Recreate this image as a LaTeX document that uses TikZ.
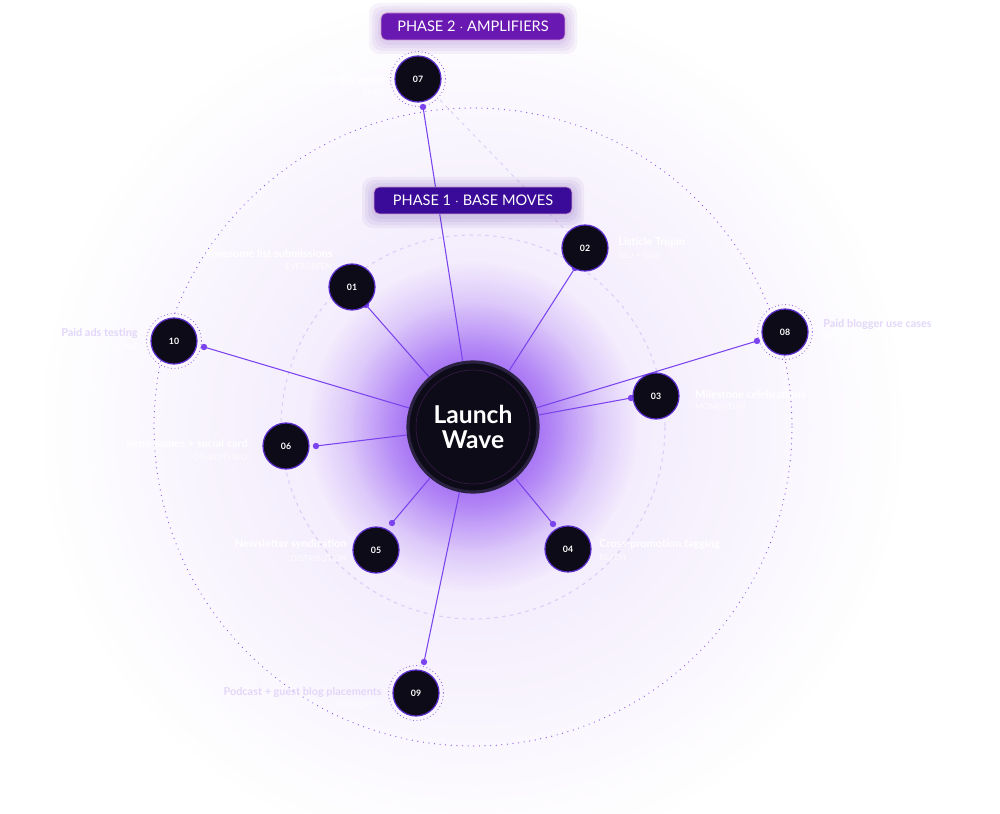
\documentclass[tikz,border=0pt]{standalone}
\usepackage{fontspec}
\setmainfont{Lato}
\usetikzlibrary{fadings}
\definecolor{bgpale}{HTML}{EDE2FC}
\definecolor{glowviolet}{HTML}{9252F4}
\definecolor{ringviolet}{HTML}{8A4FE6}
\definecolor{innerring}{HTML}{DCCEF6}
\definecolor{linkviolet}{HTML}{7A43EE}
\definecolor{nodedark}{HTML}{0E0B18}
\definecolor{nodeedge}{HTML}{5A2CCB}
\definecolor{hubedge}{HTML}{2A2240}
\definecolor{phasetwo}{HTML}{6A18B2}
\definecolor{phaseone}{HTML}{3A0B98}
\definecolor{titlelav}{HTML}{E2D7FA}
\tikzfading[name=glowfade, inner color=transparent!0, outer color=transparent!100]
\begin{document}
\begin{tikzpicture}[x=0.02cm,y=-0.02cm,
  numnode/.style={circle,fill=nodedark,draw=nodeedge,line width=0.7pt,minimum size=0.92cm,inner sep=0pt,text=white,font=\fontsize{5}{6}\selectfont\bfseries},
  halo/.style={draw=ringviolet,line width=0.6pt,line cap=round,dash pattern=on 0pt off 2pt},
  link/.style={draw=linkviolet,line width=0.6pt},
  enddot/.style={fill=linkviolet},
  title/.style={text=white,font=\fontsize{6.2}{7}\selectfont\bfseries,inner sep=0pt},
  ptitle/.style={text=titlelav,font=\fontsize{6.2}{7}\selectfont\bfseries,inner sep=0pt},
  subtitle/.style={text=white,text opacity=0.8,font=\fontsize{4.6}{5}\selectfont,inner sep=0pt},
  phasebox/.style={rounded corners=3pt,draw=white!60!violet,line width=0.4pt,text=white,minimum height=0.54cm,inner sep=0pt,font=\fontsize{8.3}{9}\selectfont}
]
\useasboundingbox (0,0) rectangle (1000,814);
\fill[white] (0,0) rectangle (1000,814);
% soft background and glow
\fill[bgpale,path fading=glowfade] (473,427) circle (430);
\draw[innerring,line width=0.6pt,dash pattern=on 2pt off 2.5pt] (473,427) circle (192);
\draw[ringviolet,line width=0.7pt,line cap=round,dash pattern=on 0pt off 3.2pt] (473,427) circle (319);
\draw[innerring,line width=0.5pt,dash pattern=on 2pt off 2.5pt] (440,100) -- (575,240);
\fill[glowviolet,opacity=0.9,path fading=glowfade] (473,427) circle (165);
\fill[glowviolet,opacity=0.7,path fading=glowfade] (473,427) circle (125);
\fill[glowviolet,opacity=0.5,path fading=glowfade] (473,427) circle (95);

\node[circle,fill=nodedark,draw=hubedge,line width=1.8pt,minimum size=2.6cm,inner sep=0pt] (hub) at (473,427) {};
\draw[hubedge!80!violet,line width=0.3pt] (hub.center) circle (57);
\node[text=white,font=\fontsize{14}{14.5}\selectfont\bfseries,align=center] at (hub.center) {Launch\\Wave};

% end points of the links
\coordinate (d01) at (366,305);
\coordinate (d02) at (575,268);
\coordinate (d03) at (631,398);
\coordinate (d04) at (553,524);
\coordinate (d05) at (392,523);
\coordinate (d06) at (316,446);
\coordinate (d07) at (423,107);
\coordinate (d08) at (757,341);
\coordinate (d09) at (424,662);
\coordinate (d10) at (204,347);
\foreach \k in {01,02,03,04,05,06,07,08,09,10}{
  \draw[link] (hub) -- (d\k);
  \fill[enddot] (d\k) circle (3.2);
}

% phase 1 steps
\node[numnode] (n01) at (352,287) {01};
\node[numnode] (n02) at (585,248) {02};
\node[numnode] (n03) at (656,396) {03};
\node[numnode] (n04) at (568,549) {04};
\node[numnode] (n05) at (376,550) {05};
\node[numnode] (n06) at (286,446) {06};
% phase 2 steps
\node[numnode] (n07) at (418,79) {07};
\node[numnode] (n08) at (785,332) {08};
\node[numnode] (n09) at (416,693) {09};
\node[numnode] (n10) at (174,341) {10};
\foreach \k in {07,08,09,10}
  \draw[halo] (n\k.center) circle (27.5);

% labels
\node[title,anchor=east] (t01) at (333,253) {Awesome list submissions};
\node[subtitle,anchor=east] (s01) at (332,267) {EVERGREEN};
\node[title,anchor=west] (t02) at (618,242) {Listicle Trojan};
\node[subtitle,anchor=west] (s02) at (618,256) {SEO + GEO};
\node[title,anchor=west] (t03) at (695,394) {Milestone celebrations};
\node[subtitle,anchor=west] (s03) at (695,407) {MOMENTUM};
\node[title,anchor=west] (t04) at (599,544) {Cross-promotion tagging};
\node[subtitle,anchor=west] (s04) at (599,558) {REACH};
\node[title,anchor=east] (t05) at (347,544) {Newsletter syndication};
\node[subtitle,anchor=east] (s05) at (347,559) {DISTRIBUTION};
\node[title,anchor=east] (t06) at (248,444) {Repo names + social card};
\node[subtitle,anchor=east] (s06) at (248,458) {ON-REPO SEO};
\node[title,anchor=east] (t07) at (385,80) {Launch-day posts};
\node[subtitle,anchor=east] (s07) at (385,93) {SPIKE};
\node[ptitle,anchor=west] (t08) at (823,324) {Paid blogger use cases};
\node[subtitle,anchor=west] (s08) at (823,337) {EXPERT};
\node[ptitle,anchor=east] (t09) at (382,692) {Podcast + guest blog placements};
\node[subtitle,anchor=east] (s09) at (382,705) {AUTHORITY};
\node[ptitle,anchor=east] (t10) at (138,333) {Paid ads testing};
\node[subtitle,anchor=east] (s10) at (138,347) {SCALE};

% phase headers, with a soft glow behind
\foreach \g in {3,6,9,12}{
  \fill[phasetwo,opacity=0.05,rounded corners=6pt] (381-\g,13-\g+2) rectangle (565+\g,40+\g+2);
  \fill[phaseone,opacity=0.05,rounded corners=6pt] (374-\g,187-\g+2) rectangle (572+\g,214+\g+2);
}
\node[phasebox,fill=phasetwo,minimum width=3.68cm] (ph2) at (473,26.5) {PHASE 2 $\cdot$ AMPLIFIERS};
\node[phasebox,fill=phaseone,minimum width=3.96cm] (ph1) at (473,200.5) {PHASE 1 $\cdot$ BASE MOVES};
\end{tikzpicture}
\end{document}
